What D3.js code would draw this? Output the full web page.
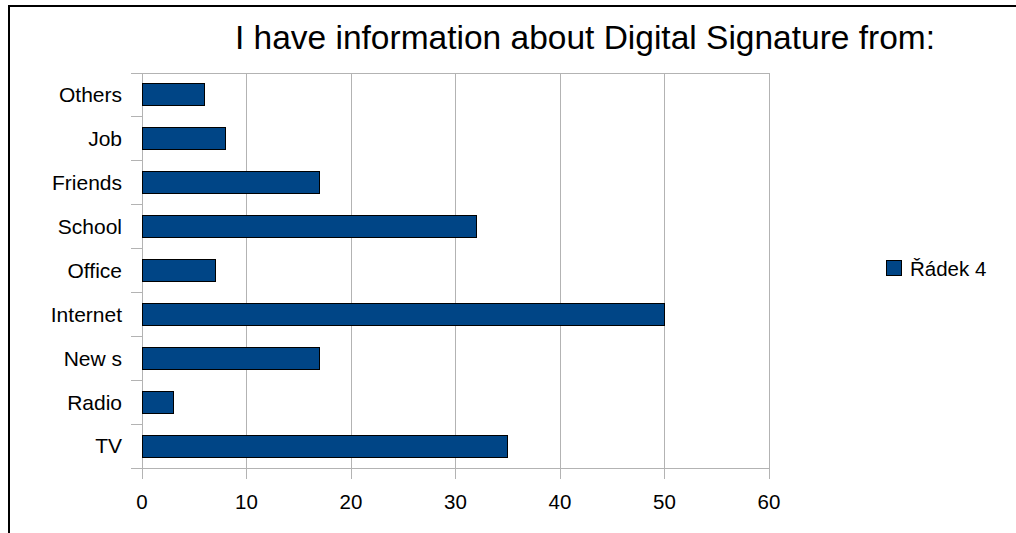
<!DOCTYPE html>
<html>
<head>
<meta charset="utf-8">
<script src="https://cdn.jsdelivr.net/npm/d3@7/dist/d3.min.js"></script>
<style>
  html, body { margin: 0; padding: 0; background: #fff; }
  svg { display: block; }
  text { font-family: "Liberation Sans", Arial, sans-serif; fill: #000; }
</style>
</head>
<body>
<svg id="chart" width="1016" height="533"></svg>
<script>
// Sources of information, listed top to bottom
const categories = ["Others", "Job", "Friends", "School", "Office", "Internet", "New s", "Radio", "TV"];
const values = [6, 8, 17, 32, 7, 50, 17, 3, 35];
const xTicks = [0, 10, 20, 30, 40, 50, 60];
const seriesName = "Řádek 4";
const titleText = "I have information about Digital Signature from:";

const svg = d3.select("#chart");
const W = 1016, H = 533;
const plot = { left: 142, right: 769, top: 73, bottom: 468 };
const barColor = "#004586";
const gridColor = "#b3b3b3";

// frame around the chart
svg.append("path")
  .attr("d", `M9,${H} V6 H${W}`)
  .attr("fill", "none")
  .attr("stroke", "#000")
  .attr("stroke-width", 2);

// title
svg.append("text")
  .attr("x", 585)
  .attr("y", 49)
  .attr("text-anchor", "middle")
  .style("font-size", "33.5px")
  .text(titleText);

const x = d3.scaleLinear().domain([0, 60]).range([plot.left, plot.right]);
const yCat = d3.scaleBand().domain(categories).range([plot.top, plot.bottom]);
const yBar = d3.scaleBand().domain(categories).range([plot.top, plot.bottom])
  .paddingInner(0.5).paddingOuter(0.25);

// vertical grid lines
svg.append("g")
  .selectAll("line")
  .data(xTicks)
  .join("line")
  .attr("x1", d => x(d)).attr("x2", d => x(d))
  .attr("y1", plot.top).attr("y2", plot.bottom + 11)
  .attr("stroke", gridColor)
  .attr("stroke-width", 1)
  .attr("shape-rendering", "crispEdges");

// top and bottom edges of the plot area
[plot.top, plot.bottom].forEach(yy => {
  svg.append("line")
    .attr("x1", plot.left).attr("x2", plot.right)
    .attr("y1", yy).attr("y2", yy)
    .attr("stroke", gridColor)
    .attr("shape-rendering", "crispEdges");
});

// category tick marks at band boundaries
const boundaries = categories.map(c => yCat(c)).concat([plot.bottom]);
svg.append("g")
  .selectAll("line")
  .data(boundaries)
  .join("line")
  .attr("x1", plot.left - 11).attr("x2", plot.left)
  .attr("y1", d => d).attr("y2", d => d)
  .attr("stroke", gridColor)
  .attr("shape-rendering", "crispEdges");

// bars
svg.append("g")
  .selectAll("rect")
  .data(categories.map((c, i) => ({ c, v: values[i] })))
  .join("rect")
  .attr("x", x(0))
  .attr("y", d => yBar(d.c))
  .attr("width", d => x(d.v) - x(0))
  .attr("height", yBar.bandwidth())
  .attr("fill", barColor)
  .attr("stroke", "#000")
  .attr("stroke-width", 1)
  .attr("shape-rendering", "crispEdges");

// category labels
svg.append("g")
  .selectAll("text")
  .data(categories)
  .join("text")
  .attr("x", 122)
  .attr("y", d => yCat(d) + yCat.bandwidth() / 2)
  .attr("dy", "0.35em")
  .attr("text-anchor", "end")
  .style("font-size", "21px")
  .text(d => d);

// value axis labels
svg.append("g")
  .selectAll("text")
  .data(xTicks)
  .join("text")
  .attr("x", d => x(d))
  .attr("y", 509)
  .attr("text-anchor", "middle")
  .style("font-size", "20.5px")
  .text(d => d);

// legend
const legend = svg.append("g").attr("transform", "translate(886,260)");
legend.append("rect")
  .attr("width", 15).attr("height", 15)
  .attr("fill", barColor)
  .attr("stroke", "#000")
  .attr("stroke-width", 1)
  .attr("shape-rendering", "crispEdges");
legend.append("text")
  .attr("x", 24)
  .attr("y", 16)
  .style("font-size", "20.5px")
  .text(seriesName);
</script>
</body>
</html>
